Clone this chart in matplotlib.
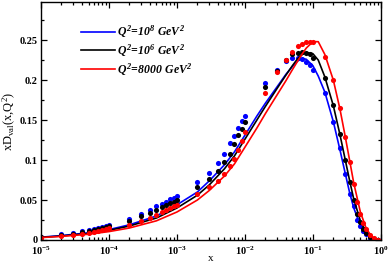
import numpy as np
import matplotlib
matplotlib.use('Agg')
import matplotlib.pyplot as plt
from matplotlib.ticker import MultipleLocator, LogLocator, NullFormatter

plt.rcParams['font.family'] = ['Liberation Serif', 'DejaVu Serif']
plt.rcParams['font.weight'] = 'bold'
plt.rcParams['mathtext.fontset'] = 'custom'
plt.rcParams['mathtext.it'] = 'Liberation Serif:italic:bold'
plt.rcParams['mathtext.rm'] = 'Liberation Serif:italic:bold'

# fitted curves
x_curve = [1e-5, 2e-5, 5e-5, 1e-4, 2e-4, 5e-4, 1e-3, 2e-3, 3e-3, 5e-3, 7e-3, 1e-2, 1.5e-2, 2e-2,
           3e-2, 4e-2, 5e-2, 6e-2, 7e-2, 8e-2, 0.1, 0.12, 0.15, 0.2, 0.25, 0.3, 0.35, 0.4, 0.5,
           0.6, 0.7, 0.8, 0.9, 1.0]
blue_curve = [0.0035, 0.0055, 0.009, 0.013, 0.019, 0.030, 0.044, 0.060, 0.074, 0.094, 0.110, 0.131,
              0.155, 0.171, 0.192, 0.207, 0.217, 0.224, 0.227, 0.226, 0.218, 0.205, 0.185, 0.148,
              0.113, 0.083, 0.058, 0.040, 0.018, 0.008, 0.0035, 0.0012, 0.0003, 0.0]
black_curve = [0.0033, 0.005, 0.0082, 0.012, 0.0175, 0.0275, 0.040, 0.056, 0.069, 0.089, 0.105, 0.126,
               0.150, 0.167, 0.190, 0.206, 0.218, 0.227, 0.232, 0.2345, 0.233, 0.225, 0.204, 0.168,
               0.132, 0.100, 0.073, 0.051, 0.024, 0.0105, 0.0045, 0.0015, 0.0004, 0.0]
red_curve = [0.003, 0.0045, 0.0072, 0.0105, 0.015, 0.024, 0.035, 0.050, 0.062, 0.080, 0.095, 0.116,
             0.140, 0.158, 0.182, 0.199, 0.213, 0.224, 0.233, 0.240, 0.248, 0.248, 0.232, 0.200,
             0.164, 0.129, 0.098, 0.071, 0.035, 0.016, 0.0065, 0.002, 0.0005, 0.0]

# data points
x_pts = [1e-5, 2e-5, 3e-5, 4e-5, 5e-5, 6e-5, 7e-5, 8e-5, 9e-5, 1e-4,
         2e-4, 3e-4, 4e-4, 5e-4, 6e-4, 7e-4, 8e-4, 9e-4, 1e-3,
         2e-3, 3e-3, 4e-3, 5e-3, 6e-3, 7e-3, 8e-3, 9e-3, 1e-2,
         2e-2, 3e-2, 4e-2, 5e-2, 6e-2, 7e-2, 8e-2, 9e-2, 0.1,
         0.15, 0.2, 0.25, 0.3, 0.35, 0.4, 0.45, 0.5, 0.55, 0.6, 0.7, 0.8, 0.9]
blue_pts = [0.004, 0.007, 0.009, 0.011, 0.0125, 0.014, 0.0154, 0.0167, 0.0175, 0.0188,
            0.026, 0.033, 0.0375, 0.042, 0.045, 0.048, 0.051, 0.053, 0.055,
            0.072, 0.084, 0.096, 0.108, 0.121, 0.130, 0.140, 0.149, 0.155,
            0.196, 0.213, 0.224, 0.228, 0.227, 0.226, 0.223, 0.219, 0.213,
            0.184, 0.148, 0.115, 0.083, 0.058, 0.042, 0.025, 0.017, 0.011, 0.008, 0.003, 0.0012, 0.0003]
black_pts = [0.0035, 0.006, 0.008, 0.0095, 0.011, 0.0125, 0.0138, 0.015, 0.016, 0.017,
             0.024, 0.030, 0.034, 0.038, 0.041, 0.044, 0.046, 0.048, 0.050,
             0.066, 0.076, 0.086, 0.097, 0.107, 0.120, 0.131, 0.139, 0.147,
             0.191, 0.211, 0.225, 0.233, 0.234, 0.235, 0.234, 0.232, 0.228,
             0.202, 0.169, 0.133, 0.100, 0.073, 0.050, 0.033, 0.022, 0.014, 0.009, 0.004, 0.0013, 0.0004]
red_pts = [0.003, 0.005, 0.0065, 0.008, 0.009, 0.0105, 0.0115, 0.0125, 0.0135, 0.0145,
           0.019, 0.024, 0.028, 0.031, 0.035, 0.038, 0.040, 0.042, 0.044,
           0.058, 0.066, 0.074, 0.083, 0.092, 0.101, 0.113, 0.124, 0.135,
           0.184, 0.210, 0.225, 0.235, 0.242, 0.245, 0.247, 0.247, 0.248,
           0.229, 0.200, 0.165, 0.129, 0.097, 0.070, 0.048, 0.033, 0.021, 0.014, 0.006, 0.002, 0.0005]

labels = [r'$Q^2\!=\!10^8\ GeV^2$', r'$Q^2\!=\!10^6\ GeV^2$', r'$Q^2\!=\!8000\ GeV^2$']
colors = ['#0000ff', '#000000', '#ff0000']

fig = plt.figure(figsize=(3.89, 2.63), dpi=100)
ax = fig.add_axes([0.1054, 0.0875, 0.8736, 0.9045])

for cv, pts, c, lab in zip([blue_curve, black_curve, red_curve], [blue_pts, black_pts, red_pts], colors, labels):
    ax.plot(x_curve, cv, color=c, lw=1.2, label=lab)
    ax.plot(x_pts, pts, 'o', color=c, ms=3.7, mew=0)

ax.set_xscale('log')
ax.set_xlim(1e-5, 1.0)
ax.set_ylim(0, 0.2975)
ax.yaxis.set_major_locator(MultipleLocator(0.05))
ax.yaxis.set_minor_locator(MultipleLocator(0.025))
ax.set_yticks([0, 0.05, 0.1, 0.15, 0.2, 0.25])
ax.set_yticklabels(['0', '0.05', '0.1', '0.15', '0.2', '0.25'])
ax.xaxis.set_major_locator(LogLocator(base=10, numticks=10))
ax.xaxis.set_minor_locator(LogLocator(base=10, subs=np.arange(2, 10), numticks=20))
ax.xaxis.set_minor_formatter(NullFormatter())
ax.tick_params(which='both', direction='in', top=True, right=True, labelsize=7.5, width=0.9)
ax.tick_params(which='major', length=4)
ax.tick_params(which='minor', length=2)
ax.tick_params(axis='x', pad=3)
ax.tick_params(axis='y', pad=2.5)
for s in ax.spines.values():
    s.set_linewidth(1.0)

ax.set_xlabel('x', fontsize=8, labelpad=-2)
ax.set_ylabel(r'xD$_{\mathdefault{val}}$(x,Q$^{\mathdefault{2}}$)', fontsize=9, labelpad=1)

leg = ax.legend(loc='upper left', bbox_to_anchor=(0.085, 0.955), frameon=False, fontsize=8.5,
                handlelength=2.9, labelspacing=0.2, handletextpad=0.2)

fig.savefig('out.png', dpi=100)
